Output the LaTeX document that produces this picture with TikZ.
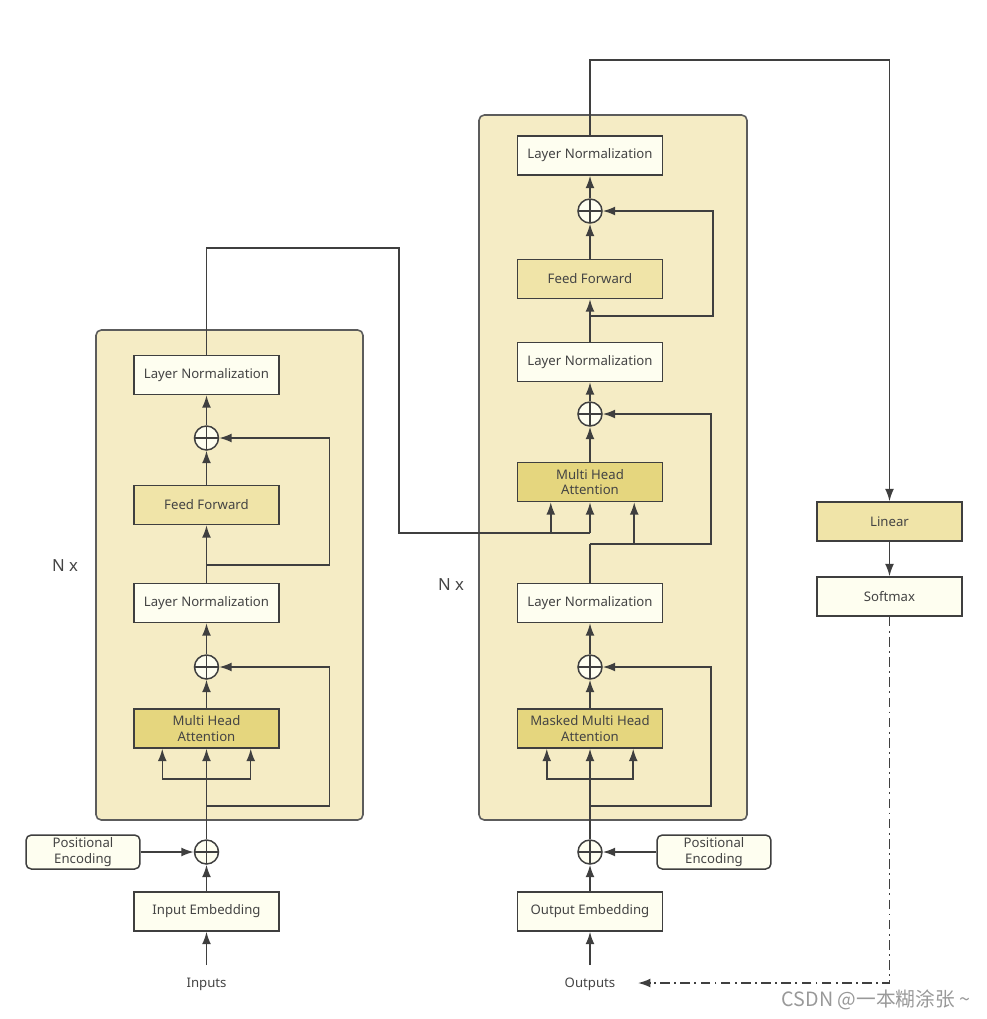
\documentclass[tikz,border=0pt]{standalone}
\usepackage{fontspec}
\setmainfont{Noto Sans}
\newfontfamily\cjk{Noto Sans CJK SC}
\usetikzlibrary{arrows.meta,calc}
\definecolor{stackfill}{HTML}{F5ECC5}
\definecolor{lightfill}{HTML}{FEFEF0}
\definecolor{fffill}{HTML}{F0E4A8}
\definecolor{attfill}{HTML}{E5D67E}
\definecolor{linecol}{HTML}{3F3F3F}
\definecolor{textcol}{HTML}{444444}
\tikzset{
 arr/.style={-{Latex[length=7pt,width=5pt]}, draw=linecol, line width=0.85pt},
 blk/.style={draw=linecol, line width=0.85pt, minimum width=2.9cm, minimum height=0.78cm, inner sep=0pt, text=textcol, font=\fontsize{7.5}{9}\selectfont, align=center},
 lnblk/.style={blk, fill=lightfill},
 ffblk/.style={blk, fill=fffill},
 attblk/.style={blk, fill=attfill},
 peblk/.style={blk, fill=lightfill, rounded corners=3pt, minimum width=2.28cm, minimum height=0.68cm},
 addop/.style={circle, draw=linecol, line width=0.85pt, fill=lightfill, minimum size=0.48cm, inner sep=0pt,
  path picture={\draw[linecol, line width=0.85pt] (path picture bounding box.north) -- (path picture bounding box.south) (path picture bounding box.west) -- (path picture bounding box.east);}},
 stack/.style={draw=linecol!85, line width=0.9pt, fill=stackfill, rounded corners=3pt},
 lbl/.style={text=textcol, font=\fontsize{7.5}{9}\selectfont}
}
\begin{document}
\begin{tikzpicture}[x=0.02cm, y=-0.02cm]
\useasboundingbox (0,0) rectangle (987,1019);
\draw[stack] (96,330) rectangle (363,820);
\draw[stack] (479,115) rectangle (747,820);
\node[text=textcol, font=\fontsize{9.5}{11}\selectfont] (enc-n) at (65,566) {N x};
\node[text=textcol, font=\fontsize{9.5}{11}\selectfont] (dec-n) at (451,585) {N x};
% encoder
\node[lnblk] (enc-emb) at (206.5,911.5) {Input Embedding};
\node[addop] (enc-pos-add) at (206.5,852) {};
\node[peblk] (enc-pe) at (83,852) {Positional\\Encoding};
\node[attblk] (enc-mha) at (206.5,728.5) {Multi Head\\Attention};
\node[addop] (enc-add1) at (206.5,667) {};
\node[lnblk] (enc-ln1) at (206.5,603) {Layer Normalization};
\node[ffblk] (enc-ff) at (206.5,505) {Feed Forward};
\node[addop] (enc-add2) at (206.5,438) {};
\node[lnblk] (enc-ln2) at (206.5,375) {Layer Normalization};
\node[lbl] (inputs) at (206.5,984) {Inputs};
\coordinate (inputs-top) at (206.5,965);
\coordinate (enc-split) at (206.5,779);
\coordinate (enc-res1) at (206.5,806);
\coordinate (enc-res2) at (206.5,565);
\coordinate (enc-k) at ($(enc-mha.south west)+(29,0)$);
\coordinate (enc-v) at ($(enc-mha.south east)+(-29,0)$);
\draw[arr] (inputs-top) -- (enc-emb);
\draw[arr] (enc-emb) -- (enc-pos-add);
\draw[arr] (enc-pe) -- (enc-pos-add);
\draw[arr] (enc-pos-add) -- (enc-mha);
\draw[arr] (enc-split) -| (enc-k);
\draw[arr] (enc-split) -| (enc-v);
\draw[arr] (enc-res1) -- ++(123,0) |- (enc-add1);
\draw[arr] (enc-mha) -- (enc-add1);
\draw[arr] (enc-add1) -- (enc-ln1);
\draw[arr] (enc-ln1) -- (enc-ff);
\draw[arr] (enc-res2) -- ++(123,0) |- (enc-add2);
\draw[arr] (enc-ff) -- (enc-add2);
\draw[arr] (enc-add2) -- (enc-ln2);
% decoder
\node[lnblk] (dec-emb) at (590,911.5) {Output Embedding};
\node[addop] (dec-pos-add) at (590,852) {};
\node[peblk] (dec-pe) at (714,852) {Positional\\Encoding};
\node[attblk] (dec-mmha) at (590,728.5) {Masked Multi Head\\Attention};
\node[addop] (dec-add1) at (590,667) {};
\node[lnblk] (dec-ln1) at (590,603) {Layer Normalization};
\node[attblk] (dec-mha) at (590,482) {Multi Head\\Attention};
\node[addop] (dec-add2) at (590,414) {};
\node[lnblk] (dec-ln2) at (590,362) {Layer Normalization};
\node[ffblk] (dec-ff) at (590,279) {Feed Forward};
\node[addop] (dec-add3) at (590,211) {};
\node[lnblk] (dec-ln3) at (590,155.5) {Layer Normalization};
\node[lbl] (outputs) at (590,984) {Outputs};
\coordinate (outputs-top) at (590,965);
\coordinate (dec-split) at (590,779);
\coordinate (dec-res1) at (590,806);
\coordinate (dec-res2) at (590,544);
\coordinate (dec-res3) at (590,316);
\coordinate (mem) at (590,533);
\coordinate (dec-mk) at ($(dec-mmha.south west)+(30,0)$);
\coordinate (dec-mv) at ($(dec-mmha.south east)+(-30,0)$);
\coordinate (dec-k) at ($(dec-mha.south west)+(34,0)$);
\coordinate (dec-q) at ($(dec-mha.south east)+(-29,0)$);
\draw[arr] (outputs-top) -- (dec-emb);
\draw[arr] (dec-emb) -- (dec-pos-add);
\draw[arr] (dec-pe) -- (dec-pos-add);
\draw[arr] (dec-pos-add) -- (dec-mmha);
\draw[arr] (dec-split) -| (dec-mk);
\draw[arr] (dec-split) -| (dec-mv);
\draw[arr] (dec-res1) -- ++(121,0) |- (dec-add1);
\draw[arr] (dec-mmha) -- (dec-add1);
\draw[arr] (dec-add1) -- (dec-ln1);
\draw[linecol, line width=0.85pt] (dec-ln1) -- (dec-res2);
\draw[arr] (dec-res2) -- ++(121,0) |- (dec-add2);
\draw[arr] (dec-q |- dec-res2) -- (dec-q);
\draw[linecol, line width=0.85pt] (enc-ln2) |- (399,248) |- (mem);
\draw[arr] (mem) -- (dec-mha);
\draw[arr] (dec-k |- mem) -- (dec-k);
\draw[arr] (dec-mha) -- (dec-add2);
\draw[arr] (dec-add2) -- (dec-ln2);
\draw[arr] (dec-ln2) -- (dec-ff);
\draw[arr] (dec-res3) -- ++(123,0) |- (dec-add3);
\draw[arr] (dec-ff) -- (dec-add3);
\draw[arr] (dec-add3) -- (dec-ln3);
% output head
\node[ffblk] (lin) at (889.5,521.5) {Linear};
\node[lnblk] (soft) at (889.5,596.5) {Softmax};
\coordinate (top-right) at (889.5,60);
\coordinate (out-end) at (638,983);
\draw[arr] (dec-ln3) |- (top-right) -- (lin);
\draw[arr] (lin) -- (soft);
\draw[arr, dash pattern=on 5.5pt off 2.5pt on 1pt off 2.5pt] (soft) |- (out-end);
\node[font=\cjk\fontsize{11.2}{13}\selectfont, text=black!40] (mark) at (876,1000) {CSDN @一本糊涂张 \textasciitilde};
\end{tikzpicture}
\end{document}
